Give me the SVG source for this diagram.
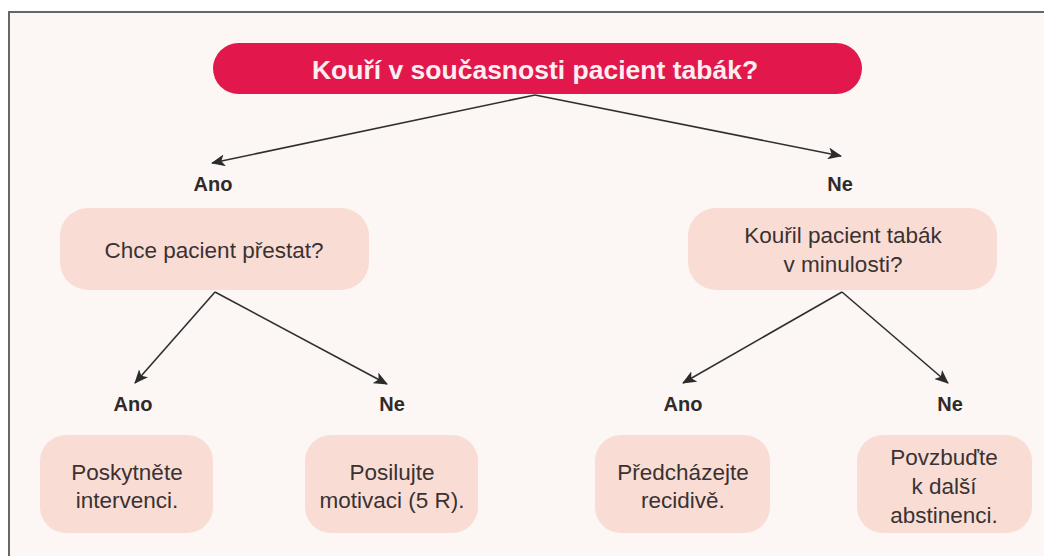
<svg xmlns="http://www.w3.org/2000/svg" width="1044" height="556" viewBox="0 0 1044 556">
<defs>
<marker id="ah" viewBox="0 0 14 12" refX="13" refY="6" markerWidth="14" markerHeight="12" markerUnits="userSpaceOnUse" orient="auto">
<path d="M0,0 L14,6 L0,12 L3.5,6 Z" fill="#2b2b2b"/>
</marker>
<style>
.box{fill:#f9ddd5}
.t{font-family:"Liberation Sans","Open Sans",sans-serif;font-size:22.5px;fill:#3a3232;text-anchor:middle}
.lbl{font-family:"Liberation Sans","Open Sans",sans-serif;font-size:20px;font-weight:bold;fill:#2f2a2a;text-anchor:middle}
.title{font-family:"Liberation Sans","Open Sans",sans-serif;font-size:26.5px;font-weight:bold;fill:#fdeef1;text-anchor:middle}
.c{stroke:#2f2f2f;stroke-width:1.6;fill:none;marker-end:url(#ah)}
</style>
</defs>
<rect x="0" y="0" width="1044" height="556" fill="#ffffff"/>
<rect x="9" y="12" width="1045" height="560" fill="#fcf6f5" stroke="#666666" stroke-width="2"/>

<g id="connectors">
<line class="c" x1="535" y1="95" x2="212" y2="163"/>
<line class="c" x1="535" y1="95" x2="841" y2="156"/>
<line class="c" x1="215" y1="292" x2="135" y2="383"/>
<line class="c" x1="215" y1="292" x2="387" y2="384"/>
<line class="c" x1="842" y1="292" x2="683" y2="383"/>
<line class="c" x1="842" y1="292" x2="948" y2="383"/>
</g>

<g id="labels">
<text class="lbl" x="213" y="191">Ano</text>
<text class="lbl" x="840" y="191">Ne</text>
<text class="lbl" x="133" y="411">Ano</text>
<text class="lbl" x="392" y="411">Ne</text>
<text class="lbl" x="683" y="411">Ano</text>
<text class="lbl" x="950" y="411">Ne</text>
</g>

<g id="n-root">
<rect x="213" y="43" width="649" height="51" rx="25.5" fill="#e2184c"/>
<text class="title" x="535" y="79">Kouří v současnosti pacient tabák?</text>
</g>

<g id="n-chce">
<rect class="box" x="60" y="208" width="309" height="82" rx="28"/>
<text class="t" x="214" y="258">Chce pacient přestat?</text>
</g>

<g id="n-kouril">
<rect class="box" x="688" y="208" width="309" height="82" rx="28"/>
<text class="t" x="843" y="243">Kouřil pacient tabák</text>
<text class="t" x="843" y="272">v minulosti?</text>
</g>

<g id="n-poskytnete">
<rect class="box" x="40" y="435" width="173" height="98" rx="26"/>
<text class="t" x="127" y="480">Poskytněte</text>
<text class="t" x="127" y="508">intervenci.</text>
</g>

<g id="n-posilujte">
<rect class="box" x="305" y="435" width="173" height="98" rx="26"/>
<text class="t" x="392" y="480">Posilujte</text>
<text class="t" x="392" y="508">motivaci (5 R).</text>
</g>

<g id="n-predchazejte">
<rect class="box" x="595" y="435" width="175" height="98" rx="26"/>
<text class="t" x="683" y="480">Předcházejte</text>
<text class="t" x="683" y="508">recidivě.</text>
</g>

<g id="n-povzbudte">
<rect class="box" x="857" y="435" width="175" height="98" rx="26"/>
<text class="t" x="944" y="465">Povzbuďte</text>
<text class="t" x="944" y="494">k další</text>
<text class="t" x="944" y="523">abstinenci.</text>
</g>
</svg>
